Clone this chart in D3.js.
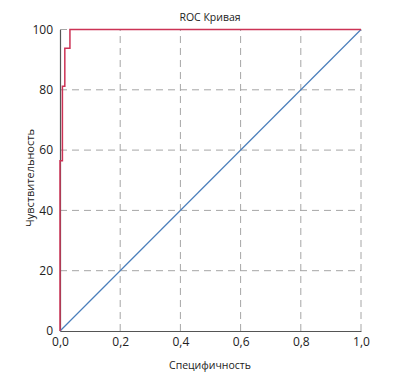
<!DOCTYPE html>
<html><head><meta charset="utf-8">
<script src="https://cdn.jsdelivr.net/npm/d3@7"></script>
<style>body{margin:0;background:#fff}svg{display:block}text{font-family:"Open Sans","Noto Sans",sans-serif;fill:#222}</style>
</head><body>
<script>
const rocX = [0, 0, 0.008, 0.008, 0.016, 0.016, 0.033, 0.033, 1.0];
const rocY = [0, 56.5, 56.5, 81.2, 81.2, 93.8, 93.8, 100, 100];
const diagX = [0, 1];
const diagY = [0, 100];
const xTicks = [0, 0.2, 0.4, 0.6, 0.8, 1.0];
const yTicks = [0, 20, 40, 60, 80, 100];
const title = "ROC Кривая";
const xLabel = "Специфичность";
const yLabel = "Чувствительность";

const W = 396, H = 379;
const m = {l: 60, r: 35, t: 29.5, b: 48};
const svg = d3.select("body").append("svg").attr("width", W).attr("height", H);
const x = d3.scaleLinear().domain([0, 1]).range([m.l, W - m.r]);
const y = d3.scaleLinear().domain([0, 100]).range([H - m.b, m.t]);

// grid
svg.append("g").selectAll("line").data(xTicks.filter(d => d > 0)).join("line")
  .attr("x1", d => x(d)).attr("x2", d => x(d)).attr("y1", y(0)).attr("y2", y(100))
  .attr("stroke", "#a6a6a6").attr("stroke-dasharray", "7,5").attr("stroke-width", 1);
svg.append("g").selectAll("line").data(yTicks.filter(d => d > 0)).join("line")
  .attr("x1", x(0)).attr("x2", x(1)).attr("y1", d => y(d)).attr("y2", d => y(d))
  .attr("stroke", "#a6a6a6").attr("stroke-dasharray", "7,5").attr("stroke-width", 1);

// axes
const xa = svg.append("g").attr("transform", `translate(0,${y(0)})`)
  .call(d3.axisBottom(x).tickValues(xTicks).tickSize(0).tickPadding(6).tickFormat(d => d3.format(".1f")(d).replace(".", ",")));
xa.select(".domain").attr("stroke", "#555").attr("stroke-width", 1.2);
xa.selectAll("text").attr("font-size", 12).attr("fill", "#222");
const ya = svg.append("g").attr("transform", `translate(${x(0)},0)`)
  .call(d3.axisLeft(y).tickValues(yTicks).tickSize(0).tickPadding(7));
ya.select(".domain").attr("stroke", "#555").attr("stroke-width", 1.2);
ya.selectAll("text").attr("font-size", 12).attr("fill", "#222");

// diagonal
svg.append("path").datum(diagX.map((d, i) => [d, diagY[i]]))
  .attr("d", d3.line().x(d => x(d[0])).y(d => y(d[1])))
  .attr("fill", "none").attr("stroke", "#4a7ebb").attr("stroke-width", 1.2);
// ROC
svg.append("path").datum(rocX.map((d, i) => [d, rocY[i]]))
  .attr("d", d3.line().x(d => x(d[0])).y(d => y(d[1])))
  .attr("fill", "none").attr("stroke", "#cc3355").attr("stroke-width", 1.5);

svg.append("text").attr("x", 210).attr("y", 21).attr("text-anchor", "middle").attr("font-size", 10.5).text(title);
svg.append("text").attr("x", 210).attr("y", 369).attr("text-anchor", "middle").attr("font-size", 10.5).text(xLabel);
svg.append("text").attr("transform", "translate(34,178) rotate(-90)").attr("text-anchor", "middle").attr("font-size", 11).text(yLabel);
</script>
</body></html>
